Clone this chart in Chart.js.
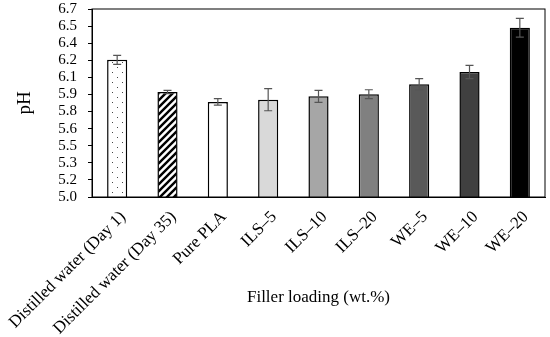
<!DOCTYPE html>
<html>
<head>
<meta charset="utf-8">
<script src="https://cdn.jsdelivr.net/npm/chart.js@4/dist/chart.umd.min.js"></script>
<style>
  body { margin: 0; background: #fff; }
  #wrap { width: 550px; height: 337px; }
</style>
</head>
<body>
<div id="wrap"><canvas id="ph-chart"></canvas></div>
<script>
var categories = ["Distilled water (Day 1)", "Distilled water (Day 35)", "Pure PLA", "ILS\u20135", "ILS\u201310", "ILS\u201320", "WE\u20135", "WE\u201310", "WE\u201320"];
var phValues = [6.24, 5.95, 5.86, 5.88, 5.91, 5.93, 6.02, 6.13, 6.53];
var phErrors = [0.04, 0.015, 0.03, 0.1, 0.055, 0.04, 0.05, 0.06, 0.085];
var yTickLabels = ["5.0", "5.2", "5.3", "5.5", "5.6", "5.8", "5.9", "6.1", "6.2", "6.4", "6.5", "6.7"];

// dotted fill for day 1
function dotPattern() {
  var c = document.createElement("canvas");
  c.width = 10; c.height = 10;
  var x = c.getContext("2d");
  x.fillStyle = "#fff";
  x.fillRect(0, 0, 10, 10);
  x.fillStyle = "#444";
  x.fillRect(2, 2, 1, 1);
  x.fillRect(7, 7, 1, 1);
  return x.createPattern(c, "repeat");
}

// diagonal hatch for day 35
function hatchPattern() {
  var c = document.createElement("canvas");
  c.width = 7; c.height = 7;
  var x = c.getContext("2d");
  x.fillStyle = "#fff";
  x.fillRect(0, 0, 7, 7);
  x.strokeStyle = "#000";
  x.lineWidth = 2.4;
  x.beginPath();
  x.moveTo(-1, 8); x.lineTo(8, -1);
  x.moveTo(-4, 4); x.lineTo(4, -4);
  x.moveTo(3, 11); x.lineTo(11, 3);
  x.stroke();
  return x.createPattern(c, "repeat");
}

var fills = [dotPattern(), hatchPattern(), "#ffffff", "#d9d9d9", "#a6a6a6", "#808080", "#595959", "#404040", "#000000"];

var errorBars = {
  id: "errorBars",
  afterDatasetsDraw: function(chart) {
    var ctx = chart.ctx;
    var y = chart.scales.y;
    var meta = chart.getDatasetMeta(0);
    ctx.save();
    ctx.strokeStyle = "#555";
    ctx.lineWidth = 1.2;
    meta.data.forEach(function(bar, i) {
      var top = y.getPixelForValue(phValues[i] + phErrors[i]);
      var bot = y.getPixelForValue(phValues[i] - phErrors[i]);
      ctx.beginPath();
      ctx.moveTo(bar.x, top); ctx.lineTo(bar.x, bot);
      ctx.moveTo(bar.x - 4, top); ctx.lineTo(bar.x + 4, top);
      ctx.moveTo(bar.x - 4, bot); ctx.lineTo(bar.x + 4, bot);
      ctx.stroke();
    });
    ctx.restore();
  }
};

var plotBox = {
  id: "plotBox",
  afterDraw: function(chart) {
    var a = chart.chartArea;
    var ctx = chart.ctx;
    ctx.save();
    ctx.strokeStyle = "#000";
    ctx.lineWidth = 1;
    ctx.strokeRect(a.left, a.top, a.right - a.left, a.bottom - a.top);
    ctx.restore();
  }
};

Chart.defaults.font.family = "'Liberation Serif', 'Times New Roman', serif";
Chart.defaults.color = "#000";

new Chart(document.getElementById("ph-chart"), {
  type: "bar",
  data: {
    labels: categories,
    datasets: [{
      data: phValues,
      backgroundColor: fills,
      borderColor: "#000",
      borderWidth: 1.5,
      categoryPercentage: 1,
      barPercentage: 0.4
    }]
  },
  options: {
    responsive: true,
    maintainAspectRatio: false,
    animation: false,
    layout: { padding: { top: 9, right: 5, left: 0, bottom: 0 } },
    plugins: { legend: { display: false }, tooltip: { enabled: false } },
    scales: {
      x: {
        grid: { display: false, drawTicks: false },
        border: { color: "#000", width: 1 },
        ticks: { font: { size: 17 }, maxRotation: 45, minRotation: 45, padding: 10, labelOffset: 6, autoSkip: false },
        title: { display: true, text: "Filler loading (wt.%)", font: { size: 17 }, padding: { top: 0, bottom: 29 } },
        afterFit: function(scale) {
          scale.height = 140;
          scale.paddingLeft = 0;
          scale.paddingRight = 0;
        }
      },
      y: {
        min: 5.0,
        max: 6.7,
        grid: { drawOnChartArea: false, tickLength: 4, color: "#000" },
        border: { color: "#000", width: 1 },
        ticks: {
          count: 12,
          autoSkip: false,
          font: { size: 15 },
          padding: 11,
          callback: function(v, i) { return yTickLabels[i]; }
        },
        title: { display: true, text: "pH", font: { size: 19 }, padding: { top: 14, bottom: 0 } },
        afterFit: function(scale) {
          scale.width = 92;
          scale.paddingTop = 0;
          scale.paddingBottom = 0;
        }
      }
    }
  },
  plugins: [errorBars, plotBox]
});
</script>
</body>
</html>
